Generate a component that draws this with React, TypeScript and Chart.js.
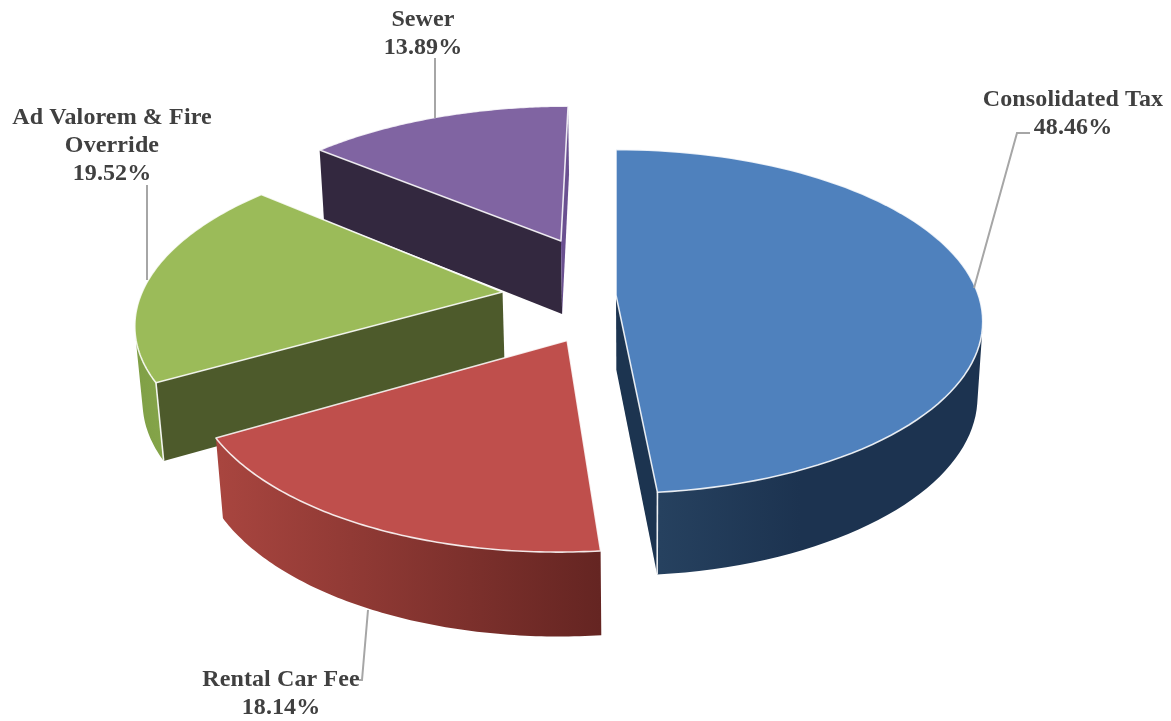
import React, { useEffect, useRef } from "react";
import { Chart, registerables } from "chart.js";

Chart.register(...registerables);

const categories = ["Consolidated Tax", "Rental Car Fee", "Ad Valorem & Fire Override", "Sewer"];
const shares = [48.46, 18.14, 19.52, 13.89];
const labelLines = [["Consolidated Tax"], ["Rental Car Fee"], ["Ad Valorem & Fire", "Override"], ["Sewer"]];
const topColors = ["#4f81bd", "#bf4f4c", "#9bbb59", "#8064a2"];

// Drawing style and the projection of the tilted, exploded pie
const VIEW = { x0: 616, horizon: -800, b: 1097, d: 2364 };
const sliceShift = [[0, -4], [-47, 90], [-114, -11], [-58, -127]];
const sliceRadius = [363, 356, 362, 371];
const paintOrder = [3, 2, 1, 0];
const startCutWall = ["#1c3450", "#6a2a27", "#4d5a2b", "#33283f"];
const endCutWall = ["#1c3450", "#6a2a27", "#4d5a2b", "#6a5090"];
const outerWall: [number, string, number, string][] = [
  [660, "#26415f", 800, "#1c3350"],
  [220, "#a8453f", 600, "#652522"],
  [135, "#7f9f46", 170, "#86a64a"],
  [320, "#33283f", 570, "#33283f"],
];
const labelPos = [
  { x: 1073, y: 106 },
  { x: 281, y: 686 },
  { x: 112, y: 124 },
  { x: 423, y: 26 },
];
const leaders = [
  [[1030, 133], [1017, 133], [974, 288]],
  [[359, 680], [362, 680], [368, 610]],
  [[147, 185], [147, 280]],
  [[435, 58], [435, 118]],
];

type P = { x: number; y: number };

function project(u: number, v: number): P {
  const w = 1 - v / VIEW.d;
  return { x: VIEW.x0 + u / w, y: VIEW.horizon + VIEW.b / w };
}

function drop(p: P): P {
  const dy = 64 + 0.037 * p.y;
  return { x: p.x + ((640 - p.x) * dy) / (5300 - p.y), y: p.y + dy };
}

function poly(ctx: CanvasRenderingContext2D, pts: P[]) {
  ctx.beginPath();
  pts.forEach((p, i) => (i ? ctx.lineTo(p.x, p.y) : ctx.moveTo(p.x, p.y)));
  ctx.closePath();
}

function area(pts: P[]) {
  let s = 0;
  pts.forEach((p, i) => {
    const q = pts[(i + 1) % pts.length];
    s += p.x * q.y - q.x * p.y;
  });
  return s;
}

const pie3d = {
  id: "pie3d",
  beforeDatasetDraw(chart: any) {
    const ctx: CanvasRenderingContext2D = chart.ctx;
    const arcs = chart.getDatasetMeta(0).data;
    ctx.save();
    ctx.lineJoin = "round";
    paintOrder.forEach((i) => {
      const arc = arcs[i];
      const [su, sv] = sliceShift[i];
      const R = sliceRadius[i];
      const a0 = arc.startAngle;
      const a1 = arc.endAngle;
      const n = 90;
      const rim: P[] = [];
      for (let k = 0; k <= n; k++) {
        const a = a0 + ((a1 - a0) * k) / n;
        rim.push(project(su + R * Math.cos(a), sv + R * Math.sin(a)));
      }
      const apex = project(su, sv);
      const top = [apex, ...rim];
      const topSign = Math.sign(area(top));
      const visible = (a: P, b: P) => Math.sign(area([a, b, drop(b), drop(a)])) === -topSign;

      // straight cut walls
      const cut = (a: P, b: P, color: string) => {
        if (!visible(a, b)) return;
        poly(ctx, [a, b, drop(b), drop(a)]);
        ctx.fillStyle = color;
        ctx.fill();
      };
      cut(apex, rim[0], startCutWall[i]);
      cut(rim[n], apex, endCutWall[i]);

      // curved outer wall, one polygon per visible run of the rim
      const [x1, c1, x2, c2] = outerWall[i];
      const grad = ctx.createLinearGradient(x1, 0, x2, 0);
      grad.addColorStop(0, c1);
      grad.addColorStop(1, c2);
      ctx.fillStyle = grad;
      let run: P[] = [];
      const flush = () => {
        if (run.length > 1) {
          poly(ctx, [...run, ...run.map(drop).reverse()]);
          ctx.fill();
        }
        run = [];
      };
      for (let k = 0; k < n; k++) {
        if (visible(rim[k], rim[k + 1])) {
          if (!run.length) run.push(rim[k]);
          run.push(rim[k + 1]);
        } else flush();
      }
      flush();

      // light vertical edges between walls
      ctx.strokeStyle = "rgba(255,255,255,0.9)";
      ctx.lineWidth = 1.6;
      [rim[0], rim[n]].forEach((p, j) => {
        const other = j === 0 ? rim[1] : rim[n - 1];
        const radialSeen = j === 0 ? visible(apex, rim[0]) : visible(rim[n], apex);
        const arcSeen = j === 0 ? visible(rim[0], other) : visible(other, rim[n]);
        if (radialSeen && arcSeen) {
          const q = drop(p);
          ctx.beginPath();
          ctx.moveTo(p.x, p.y);
          ctx.lineTo(q.x, q.y);
          ctx.stroke();
        }
      });

      // top face
      poly(ctx, top);
      ctx.fillStyle = topColors[i];
      ctx.fill();
      ctx.strokeStyle = "rgba(255,255,255,0.85)";
      ctx.lineWidth = 1.6;
      ctx.stroke();
    });
    ctx.restore();
    return false;
  },
  afterDatasetsDraw(chart: any) {
    const ctx: CanvasRenderingContext2D = chart.ctx;
    ctx.save();
    ctx.strokeStyle = "#a6a6a6";
    ctx.lineWidth = 2;
    leaders.forEach((line) => {
      ctx.beginPath();
      line.forEach(([x, y], i) => (i ? ctx.lineTo(x, y) : ctx.moveTo(x, y)));
      ctx.stroke();
    });
    ctx.font = 'bold 24px "Liberation Serif"';
    (ctx as any).letterSpacing = "0.12px";
    ctx.fillStyle = "#404040";
    ctx.textAlign = "center";
    ctx.textBaseline = "alphabetic";
    categories.forEach((_, i) => {
      const rows = [...labelLines[i], `${shares[i].toFixed(2)}%`];
      rows.forEach((t, r) => ctx.fillText(t, labelPos[i].x, labelPos[i].y + r * 28));
    });
    ctx.restore();
  },
};

export default function App() {
  const ref = useRef<HTMLCanvasElement>(null);
  useEffect(() => {
    const chart = new Chart(ref.current!, {
      type: "pie",
      data: {
        labels: categories,
        datasets: [{ data: shares, backgroundColor: topColors, borderColor: "#ffffff" }],
      },
      options: {
        animation: false,
        responsive: false,
        events: [],
        plugins: { legend: { display: false }, tooltip: { enabled: false } },
      },
      plugins: [pie3d],
    } as any);
    return () => chart.destroy();
  }, []);
  return (
    <canvas
      ref={ref}
      width={1171}
      height={721}
      style={{ position: "fixed", left: 0, top: 0, width: 1171, height: 721, display: "block" }}
    />
  );
}
